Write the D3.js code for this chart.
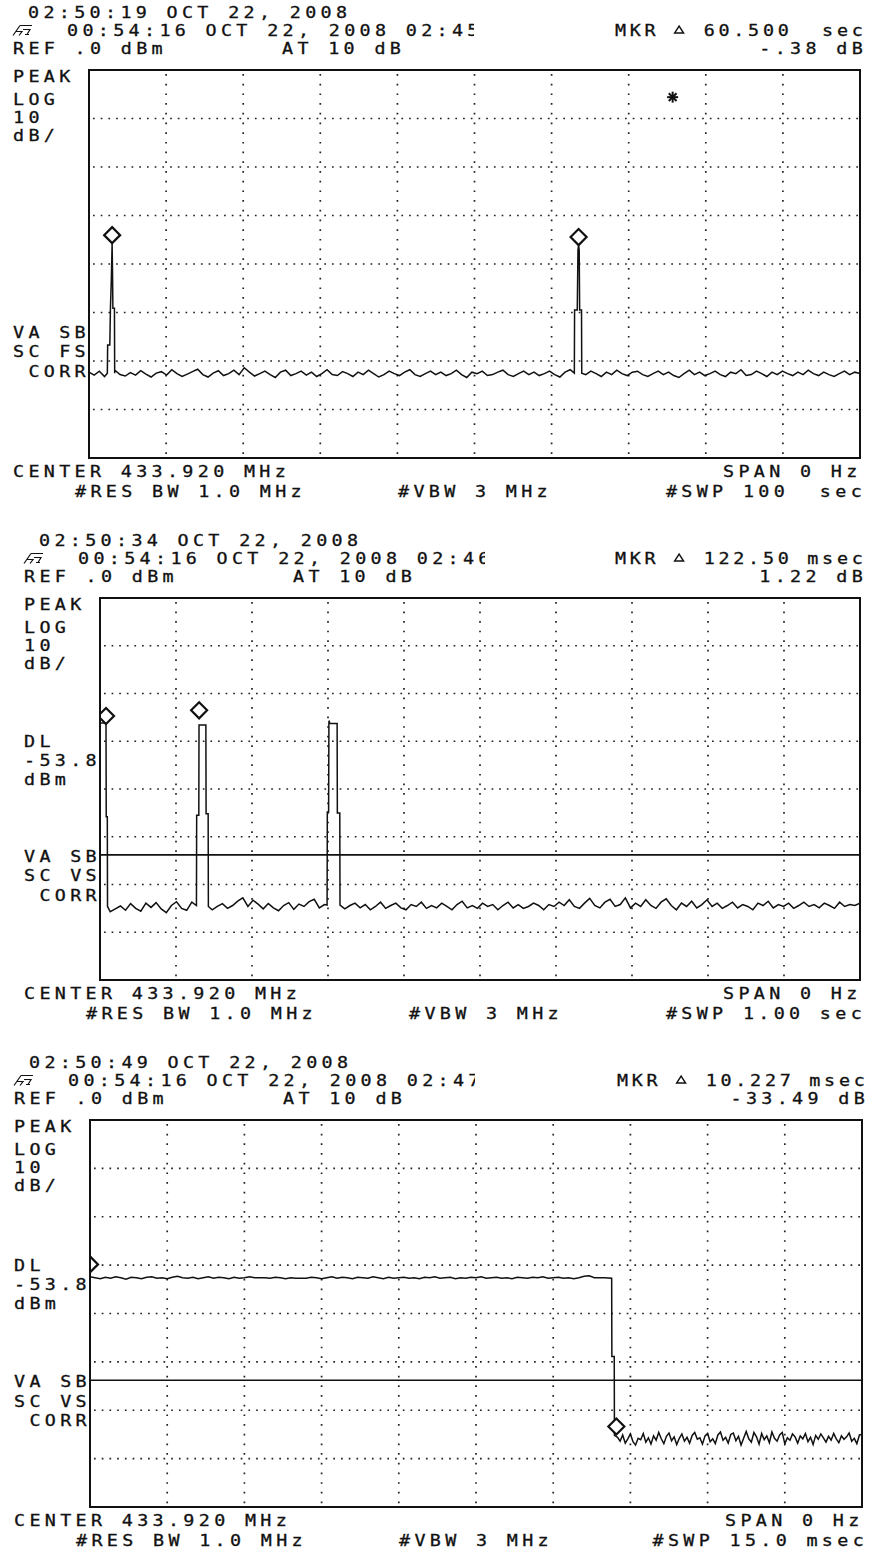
<!DOCTYPE html>
<html>
<head>
<meta charset="utf-8">
<script src="https://cdn.jsdelivr.net/npm/d3@7"></script>
<style>
  body { margin: 0; background: #fff; }
  svg text { font-family: "DejaVu Sans Mono", monospace; font-size: 16px; fill: #111; stroke: #111; stroke-width: 0.3px; white-space: pre; }
</style>
</head>
<body>
<div id="chart"></div>
<script>
// ---- data ----
// y axis: REF 0 dBm, 10 dB/div, 8 divisions; x axis: zero-span sweep time
const sweeps = [100, 1000, 15];           // sec, msec, msec
const dispLine = [null, -53.8, -53.8];    // DL level, dBm

// panel 1: 100 s sweep, noise samples every 100/149 s
const p1Noise = [
  -62.3,-62.9,-62.1,-63.2,-62.6,-61.9,-62.8,-63.1,-62.4,-62.9,
  -62.0,-62.7,-63.3,-62.5,-62.2,-62.9,-61.8,-62.6,-63.2,-62.7,
  -62.2,-61.7,-62.8,-63.3,-62.5,-62.0,-63.0,-62.6,-61.9,-62.8,
  -61.4,-62.3,-63.1,-62.6,-62.1,-62.8,-63.4,-62.3,-61.9,-63.0,
  -62.6,-62.1,-62.9,-62.3,-63.2,-62.6,-61.8,-62.8,-63.0,-62.2,
  -62.6,-63.2,-62.3,-62.8,-61.9,-62.6,-63.3,-62.8,-62.1,-62.6,
  -63.0,-62.3,-61.8,-62.8,-63.2,-62.6,-62.1,-62.8,-62.3,-63.0,
  -62.6,-61.9,-62.8,-63.4,-62.3,-62.6,-62.1,-63.0,-62.8,-62.3,
  -61.9,-62.8,-63.2,-62.6,-62.1,-62.8,-62.3,-63.0,-62.6,-62.1,
  -62.8,-63.3,-62.3,-61.8,-62.6,-63.0,-62.8,-62.1,-62.6,-63.2,
  -62.3,-62.8,-61.9,-62.6,-63.0,-62.3,-62.1,-62.8,-63.2,-62.6,
  -62.1,-62.8,-62.3,-63.0,-63.4,-62.6,-61.9,-62.8,-62.3,-63.0,
  -62.6,-62.1,-62.8,-63.2,-62.3,-62.6,-61.8,-63.0,-62.8,-62.1,
  -62.6,-63.2,-62.3,-62.8,-62.1,-62.6,-63.0,-62.3,-62.8,-61.9,
  -62.6,-63.0,-62.3,-62.8,-63.2,-62.6,-62.1,-62.8,-62.3,-62.6
];
const p1Peaks = [
  [[2.38,-62.5],[2.42,-56.7],[2.70,-56.7],[2.78,-49.1],[2.90,-43.0],[3.00,-35.7],[3.06,-43.0],[3.10,-49.1],[3.30,-49.1],[3.33,-62.5]],
  [[62.95,-62.5],[62.98,-49.5],[63.33,-49.5],[63.42,-37.1],[63.50,-36.1],[63.58,-37.1],[63.64,-49.5],[63.88,-49.5],[63.91,-62.5]]
];
const p1Markers = [[3.00,-35.7],[63.50,-36.1]];
const p1Star = [75.7, -5.6];

// panel 2: 1 s sweep (msec), noise samples every 1000/149 ms
const p2Noise = [
  -64.3,-65.0,-65.7,-65.1,-64.5,-65.4,-64.0,-65.0,-65.6,-63.9,
  -64.8,-63.8,-65.1,-65.9,-64.4,-63.6,-65.0,-65.4,-63.7,-63.2,
  -64.2,-64.9,-65.3,-64.6,-64.0,-65.0,-64.4,-63.5,-62.8,-64.6,
  -63.3,-64.1,-65.1,-64.0,-64.9,-65.5,-64.4,-63.8,-65.2,-64.1,
  -64.6,-63.6,-63.1,-64.9,-64.2,-65.3,-63.9,-64.6,-65.1,-64.4,
  -63.9,-64.9,-64.2,-65.3,-64.6,-63.7,-65.0,-64.4,-63.9,-64.9,
  -65.3,-64.2,-64.6,-63.7,-65.0,-64.4,-64.9,-63.9,-64.6,-65.3,
  -64.2,-63.5,-64.9,-64.4,-65.0,-63.9,-64.6,-64.2,-65.3,-64.4,
  -63.7,-64.9,-64.2,-65.0,-64.6,-63.9,-64.4,-65.3,-64.2,-64.6,
  -63.7,-64.4,-63.2,-64.6,-65.0,-63.9,-62.9,-64.4,-64.9,-63.7,
  -63.1,-64.6,-64.2,-62.8,-64.9,-63.9,-64.6,-63.2,-64.4,-65.0,
  -63.7,-63.0,-64.4,-65.3,-63.9,-64.6,-63.5,-64.9,-64.2,-63.2,
  -64.6,-63.9,-65.0,-64.4,-63.7,-64.9,-64.2,-64.6,-65.3,-63.9,
  -64.4,-63.5,-64.9,-64.2,-64.6,-63.9,-65.0,-64.4,-63.7,-64.6,
  -64.2,-64.9,-63.9,-64.4,-65.0,-63.7,-64.6,-64.2,-64.4,-63.9
];
const p2Peaks = [
  [[0,-26.2],[6.0,-26.2],[7.9,-26.4],[8.2,-45.8],[9.6,-45.8],[9.9,-64.6]],
  [[126.9,-64.4],[127.2,-45.5],[130.0,-45.5],[130.3,-26.6],[139.3,-26.6],[139.6,-45.2],[142.3,-45.2],[142.6,-64.6]],
  [[298.8,-64.3],[299.1,-44.8],[300.8,-44.8],[301.2,-26.0],[301.6,-25.7],[302.2,-26.3],[312.0,-26.3],[312.3,-45.0],[315.5,-45.0],[315.8,-64.3]]
];
const p2Markers = [[7.9,-26.4],[130.4,-25.2]];

// panel 3: 15 ms sweep; high part every 0.1 ms, edge, low part every 0.05 ms from 10.25
const p3High = [
  -32.4,-32.6,-32.8,-32.5,-32.7,-32.4,-32.6,-32.9,-32.5,-32.6,
  -32.8,-32.5,-32.4,-32.7,-32.6,-32.8,-32.5,-32.3,-32.6,-32.7,
  -32.5,-32.8,-32.6,-32.4,-32.7,-32.5,-32.6,-32.8,-32.5,-32.7,
  -32.6,-32.4,-32.6,-32.6,-32.6,-32.7,-32.5,-32.6,-32.8,-32.6,
  -32.7,-32.7,-32.7,-32.5,-32.6,-32.8,-32.6,-32.4,-32.7,-32.5,
  -32.6,-32.8,-32.5,-32.6,-32.7,-32.4,-32.6,-32.8,-32.5,-32.7,
  -32.6,-32.5,-32.7,-32.6,-32.8,-32.5,-32.6,-32.4,-32.7,-32.6,
  -32.5,-32.8,-32.6,-32.7,-32.5,-32.6,-32.4,-32.7,-32.6,-32.5,
  -32.7,-32.6,-32.8,-32.5,-32.6,-32.7,-32.5,-32.6,-32.4,-32.7,
  -32.6,-32.5,-32.7,-32.6,-32.8,-32.6,-32.3,-32.2,-32.6,-32.6,
  -32.6
];
const p3Edge = [[10.136,-32.7],[10.14,-48.9],[10.186,-48.9],[10.19,-65.2]];
const p3Low = [
  -65.6,-66.4,-65.1,-66.8,-65.9,-64.9,-66.5,-67.2,-65.8,-66.1,
  -64.8,-66.6,-65.7,-67.0,-65.3,-66.2,-64.6,-65.9,-66.9,-65.4,
  -64.7,-66.3,-65.5,-67.1,-65.8,-64.9,-66.4,-65.6,-66.8,-65.2,
  -64.6,-66.0,-65.7,-67.0,-65.3,-64.8,-66.5,-65.9,-66.9,-65.1,
  -64.5,-66.2,-65.6,-66.8,-65.0,-64.7,-66.3,-65.4,-67.2,-65.8,
  -64.4,-65.9,-66.6,-64.6,-65.5,-67.0,-64.8,-66.1,-65.3,-66.7,
  -64.5,-65.8,-66.4,-65.1,-64.6,-66.9,-65.7,-66.2,-64.9,-65.5,
  -66.8,-65.3,-65.9,-64.8,-66.5,-65.6,-67.1,-65.2,-66.0,-64.9,
  -65.7,-66.6,-65.4,-66.2,-64.8,-65.9,-66.7,-65.3,-66.0,-65.5,
  -64.7,-66.4,-65.8,-66.9,-65.1,-65.0
];
const p3Markers = [[0,-31.5],[10.227,-65.0]];

// annotation texts
const stamps = ["02:50:19 OCT 22, 2008", "02:50:34 OCT 22, 2008", "02:50:49 OCT 22, 2008"];
const titles = ["00:54:16 OCT 22, 2008 02:45", "00:54:16 OCT 22, 2008 02:46", "00:54:16 OCT 22, 2008 02:47"];
const mkrText = ["MKR \u25B5 60.500  sec", "MKR \u25B5 122.50 msec", "MKR \u25B5 10.227 msec"];
const mkrLevel = ["-.38 dB", "1.22 dB", "-33.49 dB"];
const modeTop = ["VA SB", "VA SB", "VA SB"];
const modeMid = ["SC FS", "SC VS", "SC VS"];
const sweepText = ["#SWP 100  sec", "#SWP 1.00 sec", "#SWP 15.0 msec"];
const scaleText = ["PEAK", "LOG", "10", "dB/"];
const dlText = ["DL", "-53.8", "dBm"];

// ---- layout of the three scanned screens (plot box corners) ----
const boxes = [
  { L: 89,  T: 70,   R: 860, B: 458 },
  { L: 100, T: 598,  R: 860, B: 980 },
  { L: 90,  T: 1120, R: 862, B: 1507 }
];

const W = 876, H = 1552;
const ADV = 15.4, SX = 1.15, FS = 16, GW = 10.3;
const svg = d3.select("#chart").append("svg").attr("width", W).attr("height", H);

function label(g, str, x, y, adv = ADV) {
  return g.append("text")
    .attr("xml:space", "preserve")
    .attr("transform", `translate(${x},${y}) scale(${SX},1)`)
    .attr("letter-spacing", (adv / SX - 0.602 * FS).toFixed(2))
    .text(str);
}
function labelRight(g, str, xEnd, y, adv = ADV) {
  return label(g, str, xEnd - ((str.length - 1) * adv + GW), y, adv);
}

function withPeaks(pts, peaks) {
  const out = pts.filter(([t]) => !peaks.some(pk => t >= pk[0][0] && t <= pk[pk.length - 1][0]));
  peaks.forEach(pk => out.push(...pk));
  return out.sort((a, b) => a[0] - b[0]);
}

const traces = [
  withPeaks(p1Noise.map((v, i) => [i * sweeps[0] / (p1Noise.length - 1), v]), p1Peaks),
  withPeaks(p2Noise.map((v, i) => [i * sweeps[1] / (p2Noise.length - 1), v]), p2Peaks),
  [...p3High.map((v, i) => [i * 0.1, v]), ...p3Edge, ...p3Low.map((v, i) => [10.25 + i * 0.05, v])]
];
const markers = [p1Markers, p2Markers, p3Markers];

boxes.forEach((f, k) => {
  const g = svg.append("g");
  const x = d3.scaleLinear().domain([0, sweeps[k]]).range([f.L, f.R]);
  const y = d3.scaleLinear().domain([-80, 0]).range([f.B, f.T]);
  const colW = (f.R - f.L) / 10, rowH = (f.B - f.T) / 8;

  const clipId = "clip" + k;
  g.append("clipPath").attr("id", clipId)
    .append("rect").attr("x", f.L).attr("y", f.T).attr("width", f.R - f.L).attr("height", f.B - f.T);

  // dotted graticule
  const dot = 1.7;
  g.selectAll(".vg").data(d3.range(1, 10).map(i => i * sweeps[k] / 10)).join("line")
    .attr("x1", d => x(d)).attr("x2", d => x(d))
    .attr("y1", f.T + 4).attr("y2", f.B - 2)
    .attr("stroke", "#222").attr("stroke-width", dot)
    .attr("stroke-dasharray", `${dot},${(rowH / 5 - dot).toFixed(2)}`);
  g.selectAll(".hg").data(d3.range(-70, 0, 10)).join("line")
    .attr("y1", d => y(d)).attr("y2", d => y(d))
    .attr("x1", f.L + 4).attr("x2", f.R - 2)
    .attr("stroke", "#222").attr("stroke-width", dot)
    .attr("stroke-dasharray", `${dot},${(colW / 10 - dot).toFixed(2)}`);

  // display line
  if (dispLine[k] !== null) {
    g.append("line").attr("x1", f.L).attr("x2", f.R)
      .attr("y1", y(dispLine[k])).attr("y2", y(dispLine[k]))
      .attr("stroke", "#111").attr("stroke-width", 1.6);
  }

  const plot = g.append("g").attr("clip-path", `url(#${clipId})`);
  plot.append("path").datum(traces[k])
    .attr("d", d3.line().x(d => x(d[0])).y(d => y(d[1])))
    .attr("fill", "none").attr("stroke", "#111").attr("stroke-width", 1.5)
    .attr("stroke-linejoin", "miter");

  // diamond markers sit on top of the trace point
  plot.selectAll(".mk").data(markers[k]).join("path")
    .attr("d", d => {
      const cx = x(d[0]), cy = y(d[1]);
      return `M${cx},${cy - 16}L${cx + 8},${cy - 8}L${cx},${cy}L${cx - 8},${cy - 8}Z`;
    })
    .attr("fill", "#fff").attr("stroke", "#111").attr("stroke-width", 2.2);

  if (k === 0) {
    const sx = x(p1Star[0]), sy = y(p1Star[1]);
    [0, 45, 90, 135].forEach(a => {
      const r = 5.5, c = Math.cos(a * Math.PI / 180) * r, s = Math.sin(a * Math.PI / 180) * r;
      g.append("line").attr("x1", sx - c).attr("y1", sy - s).attr("x2", sx + c).attr("y2", sy + s)
        .attr("stroke", "#111").attr("stroke-width", 2);
    });
  }

  // frame
  g.append("rect").attr("x", f.L).attr("y", f.T).attr("width", f.R - f.L).attr("height", f.B - f.T)
    .attr("fill", "none").attr("stroke", "#111").attr("stroke-width", 2);

  // header
  label(g, stamps[k], f.L - 61, f.T - 52.5);
  const tclip = "tclip" + k;
  g.append("clipPath").attr("id", tclip).append("rect")
    .attr("x", 0).attr("y", f.T - 60).attr("width", f.L + 385).attr("height", 40);
  const tg = g.append("g").attr("clip-path", `url(#${tclip})`);
  label(tg, titles[k], f.L - 22, f.T - 34.5);
  // hp logo
  const lx = f.L - 76, ly = f.T - 34.5;
  g.append("path")
    .attr("d", `M${lx},${ly}L${lx + 7},${ly - 10}M${lx + 3},${ly - 4}L${lx + 9},${ly - 4}L${lx + 6},${ly}M${lx + 7},${ly - 10}L${lx + 19},${ly - 10}M${lx + 10},${ly - 6}L${lx + 17},${ly - 6}L${lx + 14},${ly - 1}M${lx + 12},${ly - 1}L${lx + 16},${ly - 1}`)
    .attr("fill", "none").attr("stroke", "#111").attr("stroke-width", 1.2);
  label(g, "REF .0 dBm", f.L - 76, f.T - 16.5);
  label(g, "AT 10 dB", f.L + 193, f.T - 16.5);
  // marker readout, the delta sign is drawn as a small triangle
  const MADV = 14.8;
  const mt = labelRight(g, mkrText[k].replace("\u25B5", " "), f.R + 2, f.T - 34.5, MADV);
  const mx = f.R + 2 - ((mkrText[k].length - 1) * MADV + GW);
  const tx = mx + 4 * MADV + 5, ty = f.T - 37;
  g.append("path").attr("d", `M${tx - 4.5},${ty}L${tx + 4.5},${ty}L${tx},${ty - 7}Z`)
    .attr("fill", "none").attr("stroke", "#111").attr("stroke-width", 1.4);
  labelRight(g, mkrLevel[k], f.R + 2, f.T - 16.5);

  // left annotations
  label(g, scaleText[0], f.L - 76, f.T + 12);
  scaleText.slice(1).forEach((s, i) => label(g, s, f.L - 76, f.T + 35 + i * 18));
  if (dispLine[k] !== null) {
    dlText.forEach((s, i) => label(g, s, f.L - 76, f.T + 3.12 * rowH + i * 19));
  }
  const vy = f.T + 5.52 * rowH;
  label(g, modeTop[k], f.L - 76, vy);
  label(g, modeMid[k], f.L - 76, vy + 19.5);
  label(g, " CORR", f.L - 76, vy + 39);

  // footer
  label(g, "CENTER 433.920 MHz", f.L - 76, f.B + 19);
  label(g, "#RES BW 1.0 MHz", f.L - 14, f.B + 38.5);
  label(g, "#VBW 3 MHz", f.L + 309, f.B + 38.5);
  label(g, "SPAN 0 Hz", f.R - 137, f.B + 19);
  labelRight(g, sweepText[k], Math.min(f.R + 1, W - 6), f.B + 38.5);
});
</script>
</body>
</html>
